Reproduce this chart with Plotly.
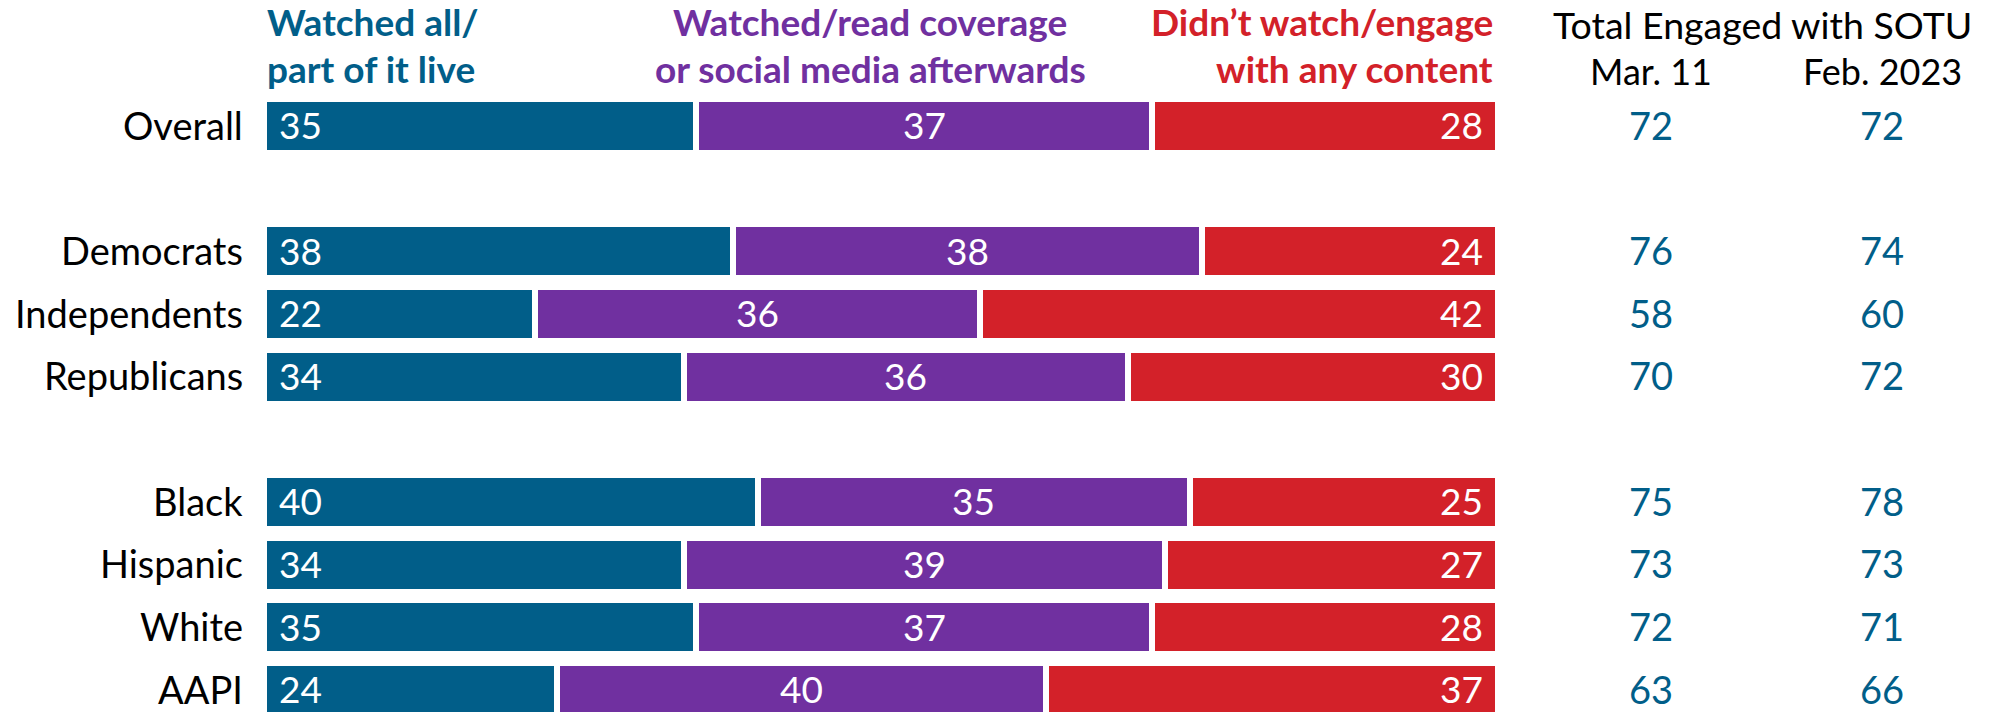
import plotly.graph_objects as go

# ---------------- data ----------------
categories = ["Overall", "Democrats", "Independents", "Republicans",
              "Black", "Hispanic", "White", "AAPI"]
group_id = [0, 1, 1, 1, 2, 2, 2, 2]
watched_live = [35, 38, 22, 34, 40, 34, 35, 24]
watched_after = [37, 38, 36, 36, 35, 39, 37, 40]
did_not_engage = [28, 24, 42, 30, 25, 27, 28, 37]
engaged_mar11 = [72, 76, 58, 70, 75, 73, 72, 63]
engaged_feb2023 = [72, 74, 60, 72, 78, 73, 71, 66]

series_names = ["Watched all/<br>part of it live",
                "Watched/read coverage<br>or social media afterwards",
                "Didn’t watch/engage<br>with any content"]
total_header = "Total Engaged with SOTU"
col_headers = ["Mar. 11", "Feb. 2023"]

# ---------------- style ----------------
BLUE = "#015E89"
PURPLE = "#7030A0"
RED = "#D32129"
FONT = "Lato"
W, H = 2009, 712

# layout geometry (pixels)
X0_PX, PX_PER_UNIT = 264, 12.34
ROW0_PX, ROW_PITCH = 126, 62.67

rows = [i + g for i, g in enumerate(group_id)]
series = [watched_live, watched_after, did_not_engage]
colors = [BLUE, PURPLE, RED]
totals = [sum(v) for v in zip(*series)]
norm = [[v / t * 100 for v, t in zip(s, totals)] for s in series]

fig = go.Figure()
for s, c, name in zip(norm, colors, series_names):
    fig.add_trace(go.Bar(
        y=rows, x=s, orientation="h", name=name.replace("<br>", " "),
        marker=dict(color=c, line=dict(color="white", width=6)),
        width=0.86, hoverinfo="skip", showlegend=False))

ann = []
num_font = dict(family=FONT, size=37, color="white")
for i, r in enumerate(rows):
    yc = r - 0.02
    # category label
    ann.append(dict(x=245 / W, xref="paper", y=yc, yref="y", text=categories[i],
                    xanchor="right", yanchor="middle", showarrow=False,
                    font=dict(family=FONT, size=38, color="black")))
    # segment values
    a, b, c = norm[0][i], norm[1][i], norm[2][i]
    ann.append(dict(x=0, y=yc, text=str(watched_live[i]), xanchor="left", xshift=13,
                    yanchor="middle", showarrow=False, font=num_font))
    ann.append(dict(x=a + b / 2, y=yc, text=str(watched_after[i]), xanchor="center",
                    yanchor="middle", showarrow=False, font=num_font))
    ann.append(dict(x=a + b + c, y=yc, text=str(did_not_engage[i]), xanchor="right",
                    xshift=-13, yanchor="middle", showarrow=False, font=num_font))
    # totals columns
    for xpx, val in ((1651, engaged_mar11[i]), (1882, engaged_feb2023[i])):
        ann.append(dict(x=xpx / W, xref="paper", y=yc, text=str(val), xanchor="center",
                        yanchor="middle", showarrow=False,
                        font=dict(family=FONT, size=38, color=BLUE)))

def py(px):
    return 1 - px / H

# series headers: line 1 sits on top of a shared edge, line 2 hangs below it
hdr_specs = [(266 / W, "left", BLUE), (870 / W, "center", PURPLE), (1494 / W, "right", RED)]
for (xp, anc, col), name in zip(hdr_specs, series_names):
    l1, l2 = name.split("<br>")
    for ln, yanc in ((l1, "bottom"), (l2, "top")):
        ann.append(dict(x=xp, xref="paper", y=py(45), yref="paper", text=f"<b>{ln}</b>",
                        xanchor=anc, yanchor=yanc, showarrow=False, borderpad=0,
                        font=dict(family=FONT, size=37, color=col)))

ann.append(dict(x=1762 / W, xref="paper", y=py(48), yref="paper", text=total_header,
                xanchor="center", yanchor="bottom", showarrow=False, borderpad=0,
                font=dict(family=FONT, size=37.5, color="black")))
for xpx, t in zip((1651, 1882), col_headers):
    ann.append(dict(x=xpx / W, xref="paper", y=py(48), yref="paper", text=t,
                    xanchor="center", yanchor="top", showarrow=False, borderpad=0,
                    font=dict(family=FONT, size=36, color="black")))

fig.update_layout(
    width=W, height=H, margin=dict(l=0, r=0, t=0, b=0),
    paper_bgcolor="white", plot_bgcolor="white",
    barmode="stack", bargap=0,
    xaxis=dict(range=[-X0_PX / PX_PER_UNIT, (W - X0_PX) / PX_PER_UNIT],
               visible=False, fixedrange=True),
    yaxis=dict(range=[(H - ROW0_PX) / ROW_PITCH, -ROW0_PX / ROW_PITCH],
               visible=False, fixedrange=True),
    annotations=ann,
)

fig.write_html("out.html", config={"displayModeBar": False},
               post_script="document.body.style.margin='0';document.body.style.overflow='hidden';")
